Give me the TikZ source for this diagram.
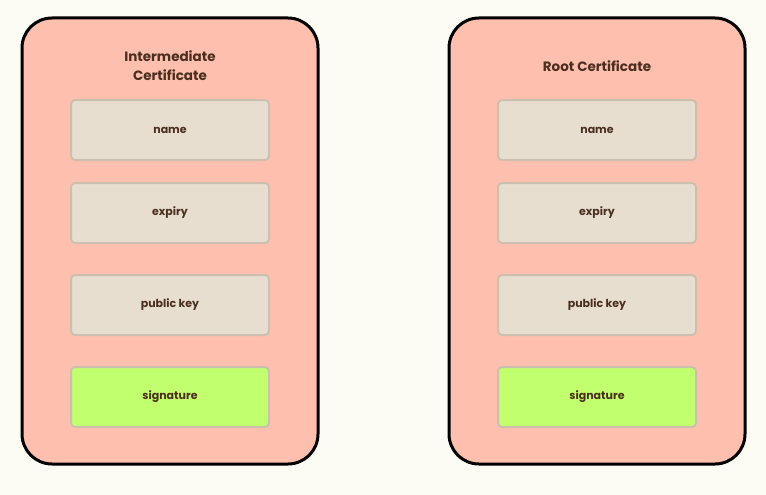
\documentclass[tikz,border=0pt]{standalone}
\usepackage{fontspec}
\setmainfont{Poppins}
\definecolor{bg}{HTML}{FCFCF4}
\definecolor{card}{HTML}{FFBFAF}
\definecolor{field}{HTML}{E8DED0}
\definecolor{fieldline}{HTML}{CDBFAF}
\definecolor{sig}{HTML}{C2FF6E}
\definecolor{ink}{HTML}{4A2E1E}
\begin{document}
\begin{tikzpicture}[x=1pt,y=-1pt,
  card/.style={draw=black,line width=3pt,fill=card,rounded corners=30pt},
  fld/.style={draw=fieldline,line width=2pt,fill=field,rounded corners=4pt,minimum width=198pt,minimum height=60pt,text=ink,font=\bfseries\fontsize{11}{13}\selectfont},
  ttl/.style={text=ink,font=\bfseries\fontsize{13.5}{19}\selectfont,align=center}]
\fill[bg] (0,0) rectangle (766,495);
\useasboundingbox (0,0) rectangle (766,495);
\draw[card] (22,18) rectangle (318,464);
\draw[card] (449,18) rectangle (745,464);
\node[ttl] (t1) at (170,66) {Intermediate\\Certificate};
\node[ttl] (t2) at (597,66) {Root Certificate};
\foreach \c/\x in {a/170,b/597}{
  \node[fld] (\c n) at (\x,130) {name};
  \node[fld] (\c e) at (\x,213) {expiry};
  \node[fld] (\c p) at (\x,305) {public key};
  \node[fld,fill=sig] (\c s) at (\x,397) {signature};
}
\end{tikzpicture}
\end{document}
